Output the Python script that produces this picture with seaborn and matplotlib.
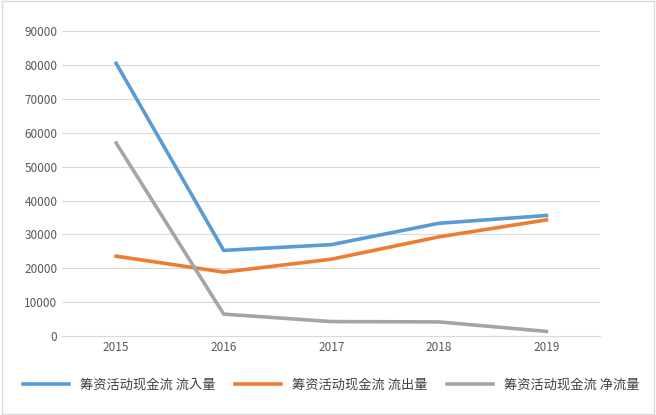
import pandas as pd
import matplotlib.pyplot as plt
import seaborn as sns
from matplotlib import font_manager

cjk = [f.name for f in font_manager.fontManager.ttflist if "CJK" in f.name]
plt.rcParams["font.family"] = "sans-serif"
plt.rcParams["font.sans-serif"] = (["Noto Sans CJK SC"] + cjk[:1] + ["DejaVu Sans"])

years = ["2015", "2016", "2017", "2018", "2019"]
inflow = [80500, 25300, 27000, 33300, 35600]
outflow = [23600, 18900, 22700, 29300, 34300]
net = [57000, 6500, 4300, 4200, 1400]

names = ["筹资活动现金流 流入量", "筹资活动现金流 流出量", "筹资活动现金流 净流量"]
df = pd.DataFrame({"year": years * 3,
                   "value": inflow + outflow + net,
                   "series": [names[0]] * 5 + [names[1]] * 5 + [names[2]] * 5})

fig = plt.figure(figsize=(6.56, 4.15), dpi=100)
ax = fig.add_axes([0.095, 0.19, 0.82, 0.735])
sns.lineplot(data=df, x="year", y="value", hue="series", sort=False,
             palette=["#5b9bd5", "#ed7d31", "#a5a5a5"], linewidth=2.6, ax=ax)

ax.set_ylim(0, 90000)
ax.set_yticks(range(0, 90001, 10000))
ax.set_xlim(-0.5, 4.5)
ax.grid(axis="y", color="#d9d9d9", linewidth=0.8)
ax.set_axisbelow(True)
for s in ["top", "right", "left"]:
    ax.spines[s].set_visible(False)
ax.spines["bottom"].set_color("#d9d9d9")
ax.tick_params(length=0, labelsize=8.5, colors="#595959")
ax.set_xlabel("")
ax.set_ylabel("")
ax.legend(loc="upper center", bbox_to_anchor=(0.5, -0.1), ncol=3, frameon=False,
          fontsize=9.5, handlelength=3.5, columnspacing=1.5, labelcolor="#404040")

fig.patches.append(plt.Rectangle((0.003, 0.003), 0.994, 0.994, transform=fig.transFigure,
                                 fill=False, edgecolor="#d9d9d9", linewidth=1))
fig.savefig("out.png", dpi=100)
